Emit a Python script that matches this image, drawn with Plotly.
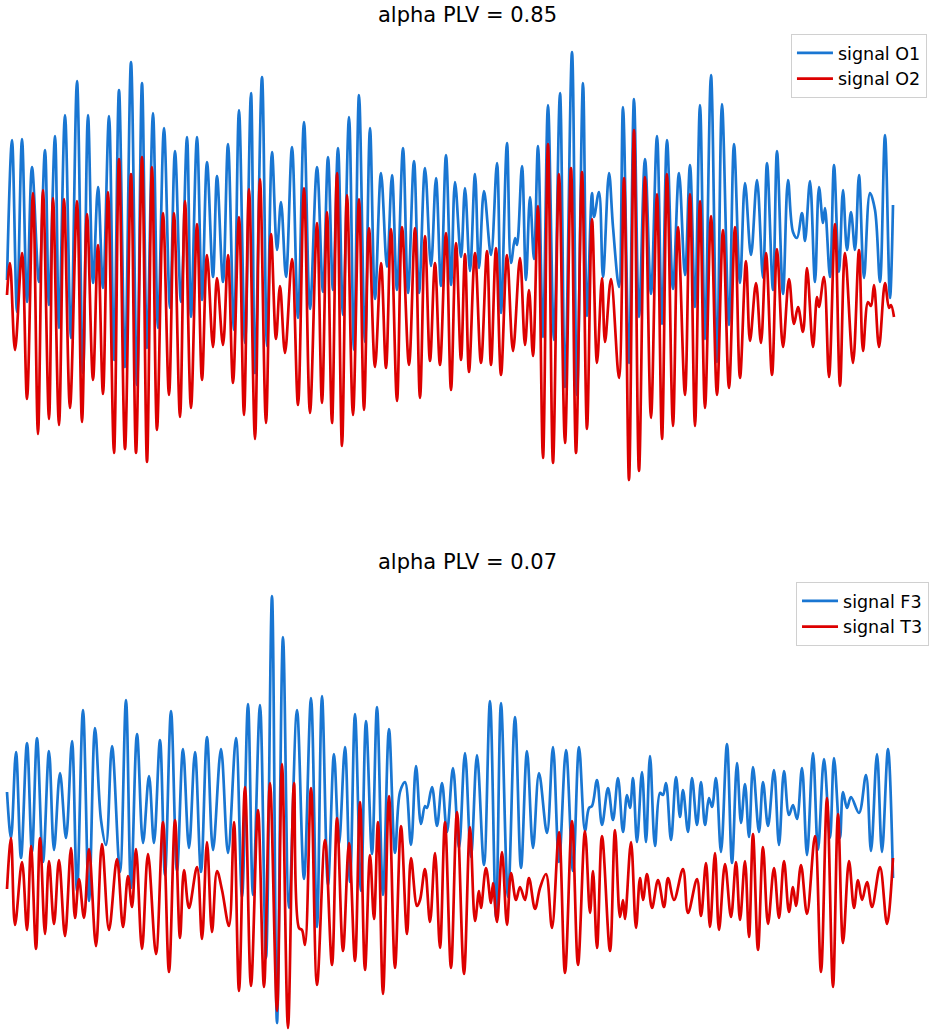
import plotly.graph_objects as go

# Extrema (time in samples, amplitude in a.u.)
O1 = [(0, -10), (5, 130), (10, -42), (15, 131), (20, -32), (25, 103), (32, -12), (38, 120), (42, -35), (48, 134),
      (52, -58), (58, 155), (64, -68), (70, 189), (76, -103), (81, 155), (86, -13), (91, 83), (96, -18), (102, 154),
      (107, -90), (112, 180), (118, -97), (124, 208), (130, -115), (135, 187), (140, -78), (146, 157), (151, -58),
      (157, 142), (163, -38), (168, 119), (174, -32), (180, 133), (184, -47), (190, 133), (195, -30), (200, 108),
      (206, -7), (210, 94), (216, -12), (221, 126), (227, -60), (232, 160), (238, -73), (244, 177), (248, -103),
      (255, 193), (260, -76), (265, 118), (270, 20), (274, 68), (279, -7), (285, 123), (291, -48), (297, 148),
      (303, -39), (310, 103), (316, -22), (321, 113), (326, -20), (331, 122), (336, -45), (342, 153), (347, -80),
      (352, 175), (358, -72), (363, 142), (368, -29), (374, 97), (380, 3), (385, 95), (390, -20), (396, 122),
      (401, -23), (407, 109), (412, -23), (418, 102), (424, 4), (429, 92), (434, -16), (439, 115), (444, -15),
      (448, 88), (454, 13), (458, 82), (463, -1), (468, 96), (472, 2), (477, 79), (484, 15), (490, 107), (494, -43),
      (500, 127), (504, 7), (508, 32), (510, 25), (515, 104), (519, -10), (523, 73), (527, 11), (531, 124),
      (536, -67), (541, 165), (547, -70), (553, 177), (558, -117), (565, 218), (570, -125), (576, 187), (580, -46),
      (585, 77), (587, 53), (592, 78), (596, -7), (602, 97), (606, 43), (612, -17), (616, 163), (622, -93),
      (627, 171), (632, -47), (638, 111), (644, -24), (650, 134), (655, -54), (660, 130), (666, -19), (672, 97),
      (678, -5), (683, 105), (688, -37), (693, 165), (698, -69), (704, 195), (710, -92), (715, 166), (722, -55),
      (727, 126), (733, -13), (738, 87), (744, 15), (750, 90), (756, -8), (760, 107), (766, -20), (770, 119),
      (776, -24), (781, 90), (786, 38), (790, 32), (795, 57), (798, 29), (803, 89), (808, -12), (812, 83),
      (816, 47), (818, 62), (823, -7), (827, 105), (832, -2), (836, 80), (840, 20), (844, 58), (848, 20),
      (852, 95), (857, -8), (863, 77), (868, 60), (873, -12), (878, 135), (883, -28), (886, 65)]

O2 = [(0, -25), (3, 7), (8, -80), (15, 17), (20, -129), (26, 77), (31, -164), (36, 80), (42, -149), (46, 72),
      (52, -155), (57, 71), (63, -138), (70, 69), (75, -152), (80, 56), (86, -110), (91, 25), (96, -124), (101, 78),
      (107, -183), (112, 111), (118, -179), (124, 96), (129, -183), (135, 113), (140, -192), (145, 103), (150, -160),
      (156, 57), (162, -125), (167, 57), (173, -147), (178, 69), (184, -138), (190, 46), (195, -110), (200, 15),
      (206, -77), (210, -8), (216, -75), (221, 15), (226, -113), (232, 53), (237, -145), (242, 81), (248, -169),
      (253, 91), (259, -153), (264, 36), (269, -69), (273, -16), (278, -83), (285, 11), (291, -135), (297, 82),
      (303, -143), (310, 47), (315, -133), (320, 58), (325, -153), (330, 97), (335, -176), (340, 75), (346, -145),
      (352, 71), (357, -140), (362, 42), (368, -97), (374, 7), (379, -98), (384, 41), (390, -131), (395, 43),
      (402, -95), (408, 42), (413, -128), (418, 34), (423, -91), (428, 7), (433, -95), (439, 37), (444, -120),
      (449, 27), (454, -90), (458, 16), (462, -102), (468, 17), (474, -93), (480, 19), (484, -95), (489, 22),
      (494, -105), (500, 15), (506, -81), (513, 12), (518, -75), (522, -20), (526, -86), (531, 64), (536, -188),
      (541, 126), (546, -193), (552, 96), (558, -173), (564, 102), (569, -183), (575, 98), (580, -159), (585, 51),
      (590, -93), (595, -8), (598, -72), (604, -9), (612, -108), (617, 92), (622, -210), (627, 140), (632, -201),
      (638, 93), (644, -148), (650, 76), (655, -169), (660, 96), (666, -156), (671, 43), (678, -125), (683, 76),
      (688, -156), (693, 69), (698, -138), (704, 54), (710, -125), (716, 40), (722, -118), (728, 43), (733, -108),
      (739, 9), (743, -71), (749, -13), (754, -73), (759, 17), (765, -105), (770, 21), (776, -77), (782, -9),
      (787, -54), (791, -37), (796, -62), (800, 2), (806, -77), (810, -27), (812, -37), (817, -7), (822, -107),
      (828, 46), (833, -116), (838, 17), (846, -93), (852, 20), (856, -81), (861, -32), (864, -36), (867, -15),
      (872, -77), (878, -13), (882, -38), (884, -35), (887, -47)]

F3 = [(0, 78), (4, 32), (9, 118), (14, 12), (20, 127), (25, 18), (30, 132), (36, 8), (42, 119), (47, 20),
      (53, 97), (59, 32), (65, 129), (70, -21), (76, 160), (82, -31), (88, 142), (94, 50), (99, 25), (105, 124),
      (113, -2), (119, 170), (124, -18), (130, 136), (136, 27), (142, 94), (147, 27), (153, 130), (158, -5),
      (164, 159), (170, -1), (176, 121), (182, 22), (188, 118), (194, -2), (200, 133), (206, 20), (214, 121),
      (221, 17), (229, 132), (235, -27), (241, 166), (246, -25), (253, 165), (259, -88), (265, 274), (270, -153),
      (276, 233), (282, -38), (290, 160), (297, -9), (304, 172), (310, -57), (315, 174), (321, -15), (327, 116),
      (332, 26), (338, 123), (343, -12), (348, 156), (354, -21), (359, 149), (365, 16), (370, 163), (376, -25),
      (382, 141), (388, 17), (393, 78), (398, 88), (404, 25), (409, 104), (414, 46), (418, 64), (420, 62),
      (425, 83), (430, 44), (435, 87), (440, 38), (446, 102), (452, 22), (458, 117), (464, 13), (470, 115),
      (477, 5), (483, 169), (489, -48), (494, 167), (501, -27), (508, 153), (514, 2), (520, 119), (526, 22),
      (532, 97), (540, 37), (546, 123), (552, 8), (559, 120), (566, -1), (572, 123), (578, 39), (582, 62),
      (585, 64), (590, 90), (595, 45), (601, 82), (606, 50), (611, 92), (616, 38), (620, 75), (623, 62),
      (626, 92), (630, 28), (635, 98), (639, 28), (643, 114), (648, 24), (653, 77), (656, 75), (659, 87),
      (664, 30), (669, 93), (673, 53), (676, 80), (681, 38), (685, 92), (690, 45), (694, 88), (698, 45),
      (702, 72), (705, 63), (709, 92), (714, 18), (720, 126), (725, 7), (730, 107), (734, 47), (738, 86),
      (742, 33), (746, 103), (752, 38), (756, 88), (761, 44), (767, 100), (772, 25), (777, 99), (782, 55),
      (786, 65), (790, 51), (795, 102), (800, 15), (806, 117), (811, 20), (817, 111), (823, 32), (827, 112),
      (833, 32), (836, 78), (840, 62), (844, 73), (852, 57), (859, 95), (864, 19), (870, 116), (875, 18),
      (881, 121), (886, -8)]

T3 = [(0, -19), (4, 32), (8, -55), (15, 8), (20, -60), (24, 24), (29, -79), (33, 32), (38, -64), (42, 9),
      (47, -54), (52, 10), (58, -66), (64, 22), (68, -48), (72, -9), (77, -48), (82, 21), (89, -76), (95, 26),
      (102, -60), (110, 11), (116, -57), (121, -6), (125, -37), (129, 21), (135, -79), (141, 16), (149, -84),
      (156, 48), (162, -102), (168, 50), (173, -68), (177, 0), (182, -38), (190, 3), (195, -69), (200, 28),
      (205, -62), (210, -1), (215, -20), (222, -56), (227, 48), (232, -121), (238, 83), (244, -116), (251, 60),
      (257, -117), (263, 87), (270, -141), (275, 106), (281, -158), (287, 87), (292, -58), (295, -60), (298, -75),
      (304, 82), (310, -115), (318, 30), (325, -95), (330, 52), (336, -81), (342, 27), (348, -91), (353, 68),
      (358, -100), (363, 15), (367, -49), (371, 48), (376, -124), (382, 74), (388, -98), (394, 44), (400, -64),
      (404, 12), (410, -36), (413, -30), (418, 1), (423, -52), (428, 17), (433, -78), (438, 48), (444, -98),
      (450, 58), (457, -104), (463, 43), (468, -51), (472, -21), (474, -38), (479, 2), (484, -33), (486, -13),
      (490, -52), (495, 18), (500, -55), (504, -3), (509, -30), (513, -17), (518, -30), (522, -8), (528, -39),
      (533, -18), (539, -4), (545, -58), (552, 38), (558, -103), (565, 49), (571, -95), (578, 39), (583, -43),
      (586, -1), (590, -78), (595, 34), (603, -81), (608, 40), (613, -47), (616, -30), (618, -49), (624, 28),
      (629, -58), (633, -8), (636, -30), (640, -4), (645, -38), (651, -10), (657, -37), (661, -8), (667, -30),
      (676, 1), (681, -43), (690, -9), (694, -46), (699, 7), (703, -57), (708, 17), (712, -60), (718, 6),
      (724, -47), (729, 8), (733, -50), (738, 9), (742, -67), (746, 36), (751, -80), (756, 23), (761, -54),
      (767, 2), (772, -48), (777, 9), (782, -42), (786, -17), (789, -36), (794, 5), (800, -44), (808, 34),
      (814, -102), (820, 72), (826, -117), (831, 56), (836, -73), (842, 9), (847, -38), (851, -10), (855, -30),
      (860, -12), (865, -37), (873, 3), (880, -54), (886, 12)]

titles = ["alpha PLV = 0.85", "alpha PLV = 0.07"]
names_top = ["signal O1", "signal O2"]
names_bottom = ["signal F3", "signal T3"]

BLUE = "#1976D2"
RED = "#DD0000"
FONT = "DejaVu Sans, Verdana, sans-serif"


def unzip(pairs):
    return [p[0] for p in pairs], [p[1] for p in pairs]


fig = go.Figure()

for data, name, color, ya, leg in [
    (O1, names_top[0], BLUE, "y", "legend"),
    (O2, names_top[1], RED, "y", "legend"),
    (F3, names_bottom[0], BLUE, "y2", "legend2"),
    (T3, names_bottom[1], RED, "y2", "legend2"),
]:
    t, a = unzip(data)
    fig.add_trace(go.Scatter(
        x=t, y=a, mode="lines", name=name,
        line=dict(color=color, width=2.7, shape="spline", smoothing=1.0),
        xaxis="x" if ya == "y" else "x2", yaxis=ya, legend=leg,
    ))

hidden = dict(visible=False, showgrid=False, zeroline=False, fixedrange=True)

legend_style = dict(
    xanchor="right", yanchor="top",
    bgcolor="rgba(255,255,255,0.8)", bordercolor="#d0d0d0", borderwidth=1,
    font=dict(family=FONT, size=17.5, color="black"),
    itemwidth=36,
)

fig.update_layout(
    width=935, height=1035,
    margin=dict(l=0, r=0, t=0, b=0),
    paper_bgcolor="white", plot_bgcolor="white",
    font=dict(family=FONT, color="black"),
    xaxis=dict(domain=[0, 1], range=[-7, 928], anchor="y", **hidden),
    yaxis=dict(domain=[0.5, 1], range=[-247.5, 270], anchor="x", **hidden),
    xaxis2=dict(domain=[0, 1], range=[-7, 928], anchor="y2", **hidden),
    yaxis2=dict(domain=[0, 0.5], range=[-165, 352.5], anchor="x2", **hidden),
    legend=dict(x=0.9914, y=1 - 34 / 1035, **legend_style),
    legend2=dict(x=0.9936, y=1 - 582 / 1035, **legend_style),
    annotations=[
        dict(text=titles[0], xref="paper", yref="paper", x=0.5, y=1 - 15 / 1035,
             xanchor="center", yanchor="middle", showarrow=False,
             font=dict(family=FONT, size=21, color="black")),
        dict(text=titles[1], xref="paper", yref="paper", x=0.5, y=1 - 562 / 1035,
             xanchor="center", yanchor="middle", showarrow=False,
             font=dict(family=FONT, size=21, color="black")),
    ],
)

fig.write_html(
    "out.html",
    config={"displayModeBar": False, "staticPlot": True},
    post_script="document.body.style.margin='0';document.body.style.overflow='hidden';",
)
